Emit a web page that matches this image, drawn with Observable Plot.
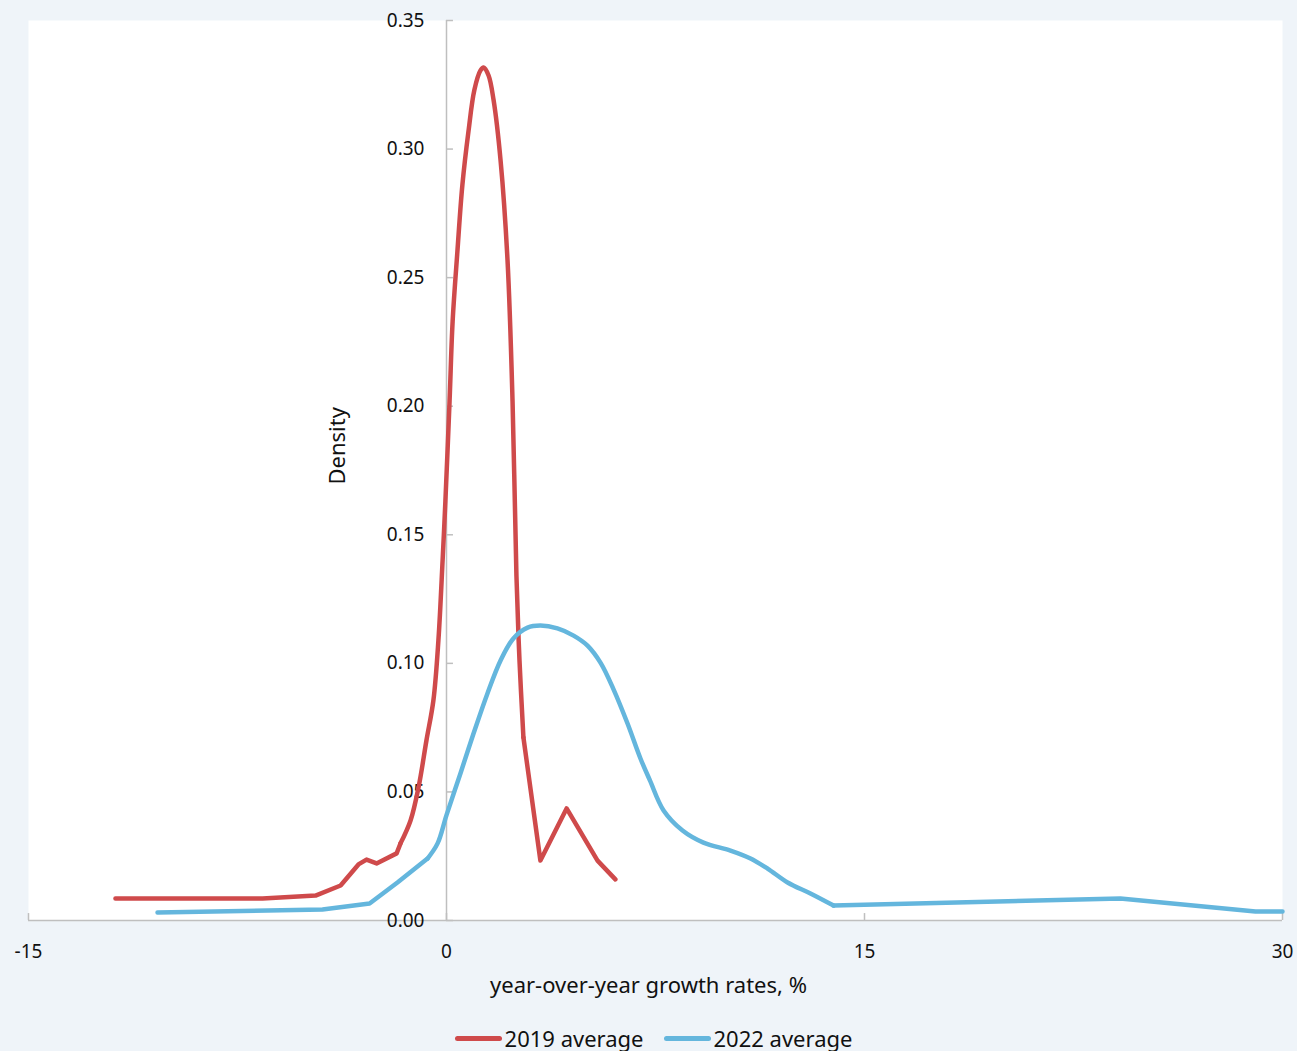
<!DOCTYPE html>
<html>
<head>
<meta charset="utf-8">
<script src="https://cdn.jsdelivr.net/npm/d3@7"></script>
<script src="https://cdn.jsdelivr.net/npm/@observablehq/plot@0.6"></script>
<style>
  html, body { margin: 0; padding: 0; background: #eff4f9; overflow: hidden; }
  body { width: 1297px; height: 1051px; font-family: "Noto Sans", "Open Sans", sans-serif; }
  #legend { display: flex; justify-content: center; align-items: center; padding-top: 24px; padding-left: 10px;
            font-size: 22px; line-height: 28px; color: #111; }
  .item { display: flex; align-items: center; margin: 0 10px; }
  .sw { width: 47px; height: 5px; border-radius: 3px; margin-right: 3px; }
</style>
</head>
<body>
<div id="chart"></div>
<div id="legend"></div>
<script>
// Series names and colours
const seriesNames = ["2019 average", "2022 average"];
const seriesColors = ["#cf4a4b", "#64b6dd"];

// 2019 average: growth rate (x) and density (y)
const x2019 = [-11.88, -6.6, -4.7, -3.8, -3.16, -2.87, -2.51, -1.79, -1.65, -1.29, -1.0, -0.72, -0.47, -0.29, -0.14, -0.04, 0.11, 0.22, 0.39, 0.57, 0.79, 1.0, 1.22, 1.33, 1.51, 1.69, 1.94, 2.19, 2.37, 2.51, 2.62, 2.76, 3.37, 4.31, 5.42, 6.06];
const y2019 = [0.0086, 0.0086, 0.0097, 0.0136, 0.0218, 0.0237, 0.0222, 0.0261, 0.030, 0.0389, 0.052, 0.070, 0.0856, 0.109, 0.140, 0.163, 0.202, 0.233, 0.260, 0.286, 0.307, 0.323, 0.3306, 0.3317, 0.3286, 0.319, 0.2956, 0.2567, 0.202, 0.134, 0.101, 0.0712, 0.0233, 0.0436, 0.0233, 0.016];
// smooth (curved) stretch of the 2019 line, as [from x, to x]
const smooth2019 = [-1.65, 2.76];

// 2022 average
const x2022 = [-10.37, -4.45, -2.76, -1.76, -0.68, -0.32, 0.0, 0.50, 0.97, 1.47, 1.94, 2.40, 2.91, 3.37, 3.98, 4.56, 5.06, 5.53, 5.99, 6.50, 6.96, 7.3, 7.79, 8.47, 9.22, 10.19, 10.91, 11.52, 12.24, 13.06, 13.89, 24.18, 29.03, 30.0];
const y2022 = [0.0031, 0.0043, 0.0066, 0.0148, 0.0241, 0.030, 0.041, 0.0572, 0.0727, 0.0883, 0.1011, 0.1097, 0.1139, 0.1147, 0.1136, 0.1108, 0.1069, 0.1002, 0.0900, 0.0765, 0.0630, 0.0545, 0.0428, 0.035, 0.0303, 0.0272, 0.0241, 0.0202, 0.0148, 0.0105, 0.0058, 0.0086, 0.0035, 0.0035];
const smooth2022 = [-0.68, 13.89];

// Axis ticks and titles
const xTicks = [-15, 0, 15, 30];
const yTicks = [0, 0.05, 0.10, 0.15, 0.20, 0.25, 0.30, 0.35];
const xTitle = "year-over-year growth rates, %";
const yTitle = "Density";

function pieces(xs, ys, [a, b]) {
  const all = xs.map((x, i) => ({x, y: ys[i]}));
  return {
    before: all.filter(d => d.x <= a),
    mid: all.filter(d => d.x >= a && d.x <= b),
    after: all.filter(d => d.x >= b)
  };
}
const p2019 = pieces(x2019, y2019, smooth2019);
const p2022 = pieces(x2022, y2022, smooth2022);

const axisColor = "#bfbfbf";
const font = "Noto Sans, Open Sans, sans-serif";
const lineOpts = (c, curve) => ({x: "x", y: "y", stroke: c, strokeWidth: 4.5, strokeLinejoin: "round", strokeLinecap: "round", curve});

const chart = Plot.plot({
  width: 1297,
  height: 1000,
  marginTop: 20,
  marginBottom: 80,
  marginLeft: 28,
  marginRight: 15,
  style: {background: "transparent", fontFamily: font, color: "#111"},
  x: {domain: [-15, 30], axis: null},
  y: {domain: [0, 0.35], axis: null},
  marks: [
    Plot.frame({fill: "white", stroke: null}),
    Plot.ruleY([0], {x1: -15, x2: 30, stroke: axisColor, strokeWidth: 1.5}),
    Plot.ruleX([0], {y1: 0, y2: 0.35, stroke: axisColor, strokeWidth: 1.5}),
    Plot.ruleY(yTicks, {x1: 0, x2: 0.25, stroke: axisColor, strokeWidth: 1.5}),
    Plot.ruleX(xTicks, {y1: 0, y2: 0.0027, stroke: axisColor, strokeWidth: 1.5}),
    Plot.text(yTicks, {x: 0, y: d => d, text: d => d.toFixed(2), textAnchor: "end", dx: -22, fontSize: 19, fill: "#111"}),
    Plot.text(xTicks, {x: d => d, y: 0, text: d => String(d), dy: 31, fontSize: 19, fill: "#111"}),
    Plot.text([xTitle], {frameAnchor: "bottom", dy: 72, dx: -7, fontSize: 22, fill: "#111"}),
    Plot.text([yTitle], {frameAnchor: "left", dx: 309, dy: 14, rotate: -90, fontSize: 22, fill: "#111"}),
    Plot.line(p2019.before, lineOpts(seriesColors[0], "linear")),
    Plot.line(p2019.mid, lineOpts(seriesColors[0], "catmull-rom")),
    Plot.line(p2019.after, lineOpts(seriesColors[0], "linear")),
    Plot.line(p2022.before, lineOpts(seriesColors[1], "linear")),
    Plot.line(p2022.mid, lineOpts(seriesColors[1], "catmull-rom")),
    Plot.line(p2022.after, lineOpts(seriesColors[1], "linear"))
  ]
});
document.getElementById("chart").appendChild(chart);

const legend = document.getElementById("legend");
seriesNames.forEach((name, i) => {
  const item = document.createElement("div");
  item.className = "item";
  const sw = document.createElement("div");
  sw.className = "sw";
  sw.style.background = seriesColors[i];
  const label = document.createElement("span");
  label.textContent = name;
  item.appendChild(sw);
  item.appendChild(label);
  legend.appendChild(item);
});
</script>
</body>
</html>
